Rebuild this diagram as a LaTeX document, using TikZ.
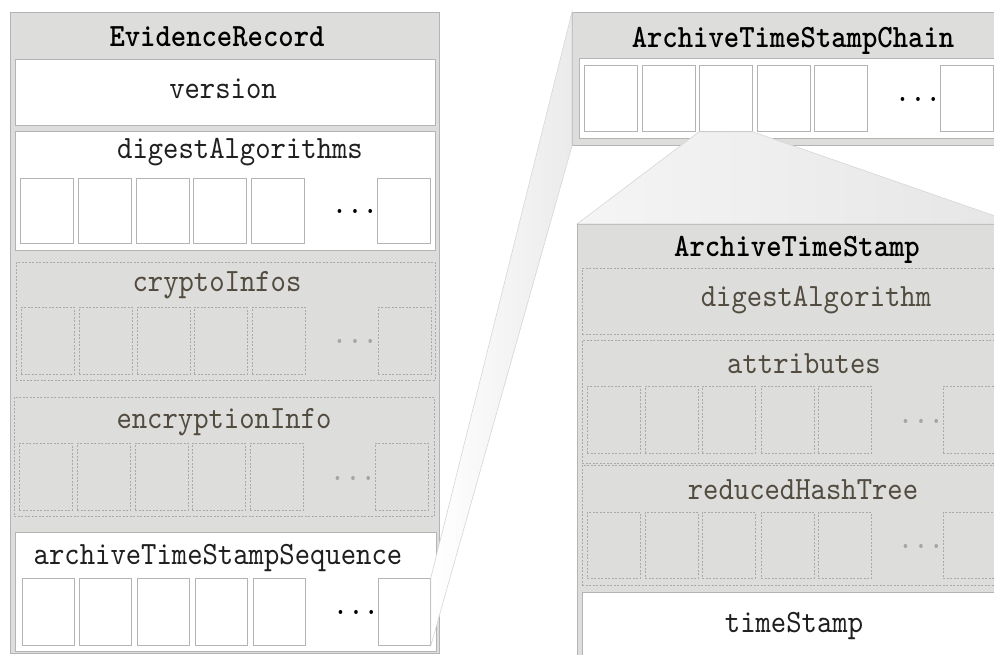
\documentclass[tikz,border=0pt]{standalone}
\usepackage{fontspec}
\setmonofont[FakeStretch=0.9, BoldFont=lmmonolt10-bold.otf, BoldFeatures={FakeStretch=0.9}]{lmmono10-regular.otf}

\definecolor{panelgray}{RGB}{221,221,219}
\definecolor{edgegray}{RGB}{180,180,180}
\definecolor{dashgray}{RGB}{170,170,170}
\definecolor{optext}{RGB}{82,76,64}
\definecolor{dotgray}{RGB}{165,165,165}

\tikzset{
  panel/.style={draw=edgegray, line width=1pt, fill=panelgray, anchor=north west, inner sep=0pt},
  fieldbox/.style={draw=edgegray, line width=0.8pt, fill=white, anchor=north west, inner sep=0pt},
  optbox/.style={draw=dashgray, line width=0.7pt, dash pattern=on 2pt off 1.5pt, fill=panelgray, anchor=north west, inner sep=0pt},
  boxtitle/.style={font=\ttfamily\bfseries\fontsize{32.5}{40}\selectfont, text=black, inner sep=0pt, anchor=base},
  fieldname/.style={font=\ttfamily\fontsize{32.5}{40}\selectfont, text=black!88, inner sep=0pt, anchor=base},
  optname/.style={fieldname, text=optext},
  moredots/.style={fieldname, text=black},
  optdots/.style={fieldname, text=dotgray},
  zoomwedge/.style={draw=black!16, line width=0.6pt},
}

\begin{document}
\begin{tikzpicture}[x=1pt,y=1pt,yscale=-1]
\useasboundingbox (0,0) rectangle (994,655);
\clip (0,0) rectangle (994,655);

% EvidenceRecord
\node[panel, minimum width=429pt, minimum height=641pt] (rec) at (10,12) {};
\node[boxtitle] (rec-title) at (217,47) {EvidenceRecord};

% version
\node[fieldbox, minimum width=420pt, minimum height=66pt] (version) at (15,59) {};
\node[fieldname] (version-lbl) at (223,99) {version};

% digestAlgorithms
\node[fieldbox, minimum width=420pt, minimum height=119pt] (digest) at (15,131) {};
\node[fieldname] (digest-lbl) at (240,159) {digestAlgorithms};
\foreach \i/\x in {1/20,2/78,3/136,4/193,5/251,n/377}
  \node[fieldbox, minimum width=53pt, minimum height=65pt] (digest-\i) at (\x,178) {};
\node[moredots] (digest-dots) at (355,214) {...};

% cryptoInfos
\node[optbox, minimum width=419pt, minimum height=118pt] (crypto) at (16,262) {};
\node[optname] (crypto-lbl) at (217,292) {cryptoInfos};
\foreach \i/\x in {1/21,2/79,3/137,4/194,5/252,n/378}
  \node[optbox, minimum width=53pt, minimum height=67pt] (crypto-\i) at (\x,307) {};
\node[optdots] (crypto-dots) at (355,344) {...};

% encryptionInfo
\node[optbox, minimum width=420pt, minimum height=119pt] (encr) at (14,397) {};
\node[optname] (encr-lbl) at (224,428) {encryptionInfo};
\foreach \i/\x in {1/19,2/77,3/135,4/192,5/250,n/375}
  \node[optbox, minimum width=53pt, minimum height=67pt] (encr-\i) at (\x,443) {};
\node[optdots] (encr-dots) at (353,480) {...};

% archiveTimeStampSequence
\node[fieldbox, minimum width=421pt, minimum height=119pt] (seq) at (15,532) {};
\node[fieldname] (seq-lbl) at (218,564) {archiveTimeStampSequence};
\foreach \i/\x in {1/22,2/79,3/137,4/195,5/253,n/378}
  \node[fieldbox, minimum width=52pt, minimum height=67pt] (seq-\i) at (\x,578) {};
\node[moredots] (seq-dots) at (356,614) {...};

% ArchiveTimeStampChain
\node[panel, minimum width=443pt, minimum height=133pt] (chain) at (572,12) {};
\node[boxtitle] (chain-title) at (793,48) {ArchiveTimeStampChain};
\node[fieldbox, minimum width=429pt, minimum height=80pt] (chain-row) at (579,58) {};
\foreach \i/\x in {1/584,2/642,3/699,4/757,5/814,n/940}
  \node[fieldbox, minimum width=53pt, minimum height=66pt] (chain-\i) at (\x,65) {};
\node[moredots] (chain-dots) at (918,102) {...};

% ArchiveTimeStamp
\node[panel, minimum width=440pt, minimum height=480pt] (ats) at (577,224) {};
\node[boxtitle] (ats-title) at (797,257) {ArchiveTimeStamp};

% digestAlgorithm
\node[optbox, minimum width=430pt, minimum height=66pt] (dalg) at (582,268) {};
\node[optname] (dalg-lbl) at (816,306) {digestAlgorithm};

% attributes
\node[optbox, minimum width=430pt, minimum height=123pt] (attr) at (582,340) {};
\node[optname] (attr-lbl) at (804,373) {attributes};
\foreach \i/\x in {1/587,2/645,3/702,4/761,5/818,n/943}
  \node[optbox, minimum width=53pt, minimum height=67pt] (attr-\i) at (\x,386) {};
\node[optdots] (attr-dots) at (921,423) {...};

% reducedHashTree
\node[optbox, minimum width=430pt, minimum height=120pt] (rht) at (582,465) {};
\node[optname] (rht-lbl) at (803,499) {reducedHashTree};
\foreach \i/\x in {1/587,2/645,3/702,4/761,5/818,n/943}
  \node[optbox, minimum width=53pt, minimum height=66pt] (rht-\i) at (\x,512) {};
\node[optdots] (rht-dots) at (921,548) {...};

% timeStamp
\node[fieldbox, minimum width=430pt, minimum height=110pt] (ts) at (582,592) {};
\node[fieldname] (ts-lbl) at (794,632) {timeStamp};

% zoom wedges
\draw[zoomwedge, left color=white, right color=black!8]
  (seq-n.north east) -- (chain.north west) -- (chain.south west) -- (seq-n.south east) -- cycle;
\draw[zoomwedge, left color=black!4, right color=black!10]
  (chain-3.south west) -- (chain-3.south east) -- (ats.north east) -- (ats.north west) -- cycle;

\end{tikzpicture}
\end{document}
